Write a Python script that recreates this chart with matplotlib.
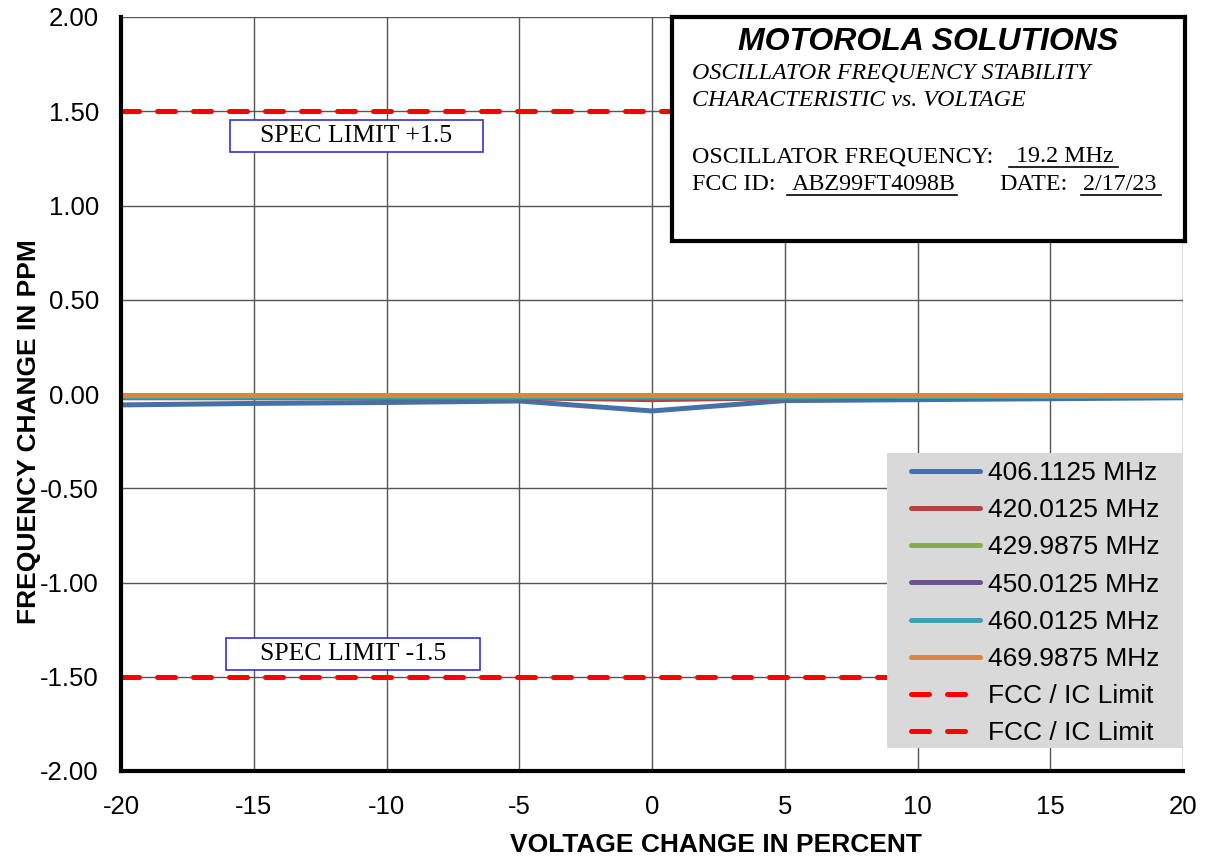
import matplotlib.pyplot as plt
from matplotlib.patches import Rectangle
from matplotlib.lines import Line2D

plt.rcParams['axes.unicode_minus'] = False

# voltage change points (percent)
voltage = [-20, -15, -10, -5, 0, 5, 10, 15, 20]

# frequency change (ppm) per channel
f406 = [-0.058, -0.050, -0.045, -0.037, -0.090, -0.035, -0.030, -0.025, -0.020]
f420 = [-0.020, -0.020, -0.020, -0.020, -0.030, -0.020, -0.018, -0.016, -0.015]
f430 = [-0.015, -0.015, -0.015, -0.015, -0.015, -0.015, -0.012, -0.012, -0.012]
f450 = [-0.010, -0.010, -0.010, -0.010, -0.012, -0.010, -0.010, -0.010, -0.010]
f460 = [-0.008, -0.008, -0.008, -0.008, -0.008, -0.008, -0.008, -0.008, -0.008]
f470 = [-0.005, -0.005, -0.005, -0.005, -0.005, -0.005, -0.005, -0.005, -0.005]

series = [f406, f420, f430, f450, f460, f470]
labels = ["406.1125 MHz", "420.0125 MHz", "429.9875 MHz",
          "450.0125 MHz", "460.0125 MHz", "469.9875 MHz"]
colors = ["#4472a8", "#b04440", "#8aac48", "#6c5392", "#41a0b8", "#dd8539"]

limit_x = [-20, 20]
upper_limit = [1.5, 1.5]
lower_limit = [-1.5, -1.5]

W, H = 1206, 859
fig = plt.figure(figsize=(W / 100, H / 100), dpi=100)
ax = fig.add_axes([121 / W, 1 - 771 / H, (1183 - 121) / W, (771 - 17) / H])


def px(x, y):
    return x / W, 1 - y / H


ax.set_xlim(-20, 20)
ax.set_ylim(-2, 2)
ax.set_xticks(range(-20, 21, 5))
ax.set_yticks([i * 0.5 for i in range(-4, 5)])
ax.set_yticklabels(["%.2f" % (i * 0.5) for i in range(-4, 5)])
ax.grid(True, color="#555555", linewidth=1)
ax.set_axisbelow(True)
for s in ["top", "right"]:
    ax.spines[s].set_visible(False)
for s in ["left", "bottom"]:
    ax.spines[s].set_linewidth(3)
ax.tick_params(labelsize=18.5, length=0)
ax.tick_params(axis="y", pad=16)
ax.tick_params(axis="x", pad=17)
for lab in ax.get_xticklabels() + ax.get_yticklabels():
    lab.set_family("Liberation Sans")

# draw the channels
handles = []
for vals, lab, c in zip(series, labels, colors):
    h, = ax.plot(voltage, vals, color=c, linewidth=3.6, label=lab, solid_capstyle="round")
    handles.append(h)

d1, = ax.plot(limit_x, upper_limit, color="red", linewidth=3.6, dashes=(3.6, 3.6),
              dash_capstyle="round", label="FCC / IC Limit")
d2, = ax.plot(limit_x, lower_limit, color="red", linewidth=3.6, dashes=(3.6, 3.6),
              dash_capstyle="round", label="FCC / IC Limit")
handles += [d1, d2]

# legend background box, then the legend itself on top
lx0, ly0 = px(887, 748)
lx1, ly1 = px(1183, 453)
ax.add_patch(Rectangle((lx0, ly0), lx1 - lx0, ly1 - ly0, transform=fig.transFigure,
                       facecolor="#d9d9d9", edgecolor="none", zorder=4))
leg = ax.legend(handles=handles, loc="upper left", bbox_to_anchor=px(911, 461),
                bbox_transform=fig.transFigure,
                prop={"family": "Liberation Sans", "size": 19},
                frameon=False, handlelength=2.6, handletextpad=0.3,
                labelspacing=0.5, borderpad=0, borderaxespad=0)
leg.set_zorder(5)

ax.set_xlabel("VOLTAGE CHANGE IN PERCENT", fontsize=19, fontweight="bold",
              family="Liberation Sans")
ax.set_ylabel("FREQUENCY CHANGE IN PPM", fontsize=19, fontweight="bold",
              family="Liberation Sans")
ax.xaxis.set_label_coords(0.56, -0.098)
ax.yaxis.set_label_coords(-0.0866, 0.45)
ax.xaxis.label.set_va("center")
ax.yaxis.label.set_va("center")

# spec limit labels
for txt, (bx0, by0, bx1, by1) in [("SPEC LIMIT +1.5", (230, 120, 483, 152)),
                                  ("SPEC LIMIT -1.5", (226, 638, 480, 670))]:
    x0, y0 = px(bx0, by1)
    x1, y1 = px(bx1, by0)
    fig.patches.append(Rectangle((x0, y0), x1 - x0, y1 - y0, transform=fig.transFigure,
                                 facecolor="white", edgecolor="#3333cc", linewidth=1.2))
    cx, cy = px((bx0 + bx1) / 2, (by0 + by1) / 2)
    fig.text(cx, cy, txt, ha="center", va="center", fontsize=18.5,
             family="Liberation Serif")

# title box
bx = fig.add_axes([672 / W, 1 - 241 / H, (1185 - 672) / W, (241 - 17) / H])
bx.set_xticks([])
bx.set_yticks([])
for s in bx.spines.values():
    s.set_linewidth(3)
bx.set_facecolor("white")

serif = dict(va="center", ha="left", fontsize=17.3, family="Liberation Serif")
fig.text(*px(928, 42), "MOTOROLA SOLUTIONS", ha="center", va="center", fontsize=23,
         fontweight="bold", style="italic", family="Liberation Sans")
fig.text(*px(692, 73), "OSCILLATOR FREQUENCY STABILITY", style="italic", **serif)
fig.text(*px(692, 101), "CHARACTERISTIC vs. VOLTAGE", style="italic", **serif)
fig.text(*px(692, 157), "OSCILLATOR FREQUENCY:", **serif)
fig.text(*px(1016, 157), "19.2 MHz", **serif)
fig.text(*px(692, 184), "FCC ID:", **serif)
fig.text(*px(792, 184), "ABZ99FT4098B", **serif)
fig.text(*px(999, 184), "DATE:", **serif)
fig.text(*px(1083, 184), "2/17/23", **serif)
for (ux0, ux1, uy) in [(1009, 1118, 167), (787, 957, 195), (1081, 1161, 195)]:
    a, b = px(ux0, uy)
    c, d = px(ux1, uy)
    fig.lines.append(Line2D([a, c], [b, d], transform=fig.transFigure, color="black",
                            linewidth=1.2))

fig.savefig("out.png", dpi=100)
